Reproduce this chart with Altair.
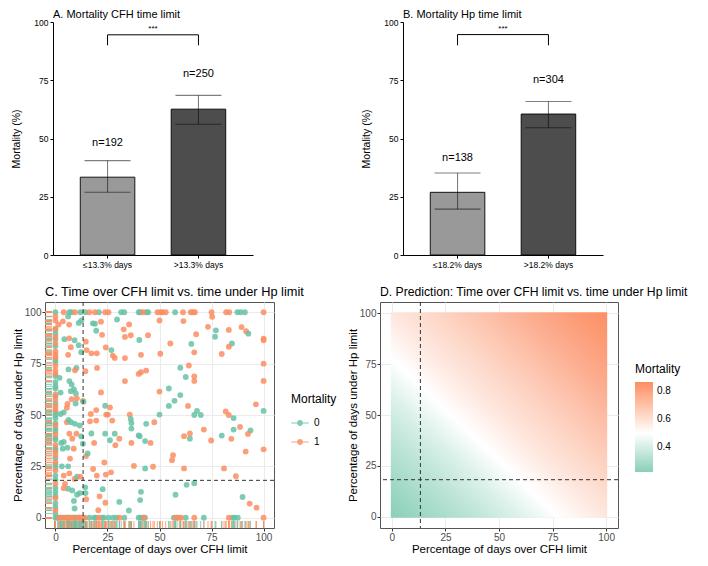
import altair as alt
import pandas as pd

FONT = "Liberation Sans"

# ---------------- Panel A / B data ----------------
a_groups = ["≤13.3% days", ">13.3% days"]
a_mort = [33.4, 62.6]
a_lo = [26.9, 56.1]
a_hi = [40.5, 68.5]
a_nlab = ["n=192", "n=250"]
a_nlab_y = [47.9, 77.5]
a_bracket = [90.0, 94.5]
a_star_y = 96.9

b_groups = ["≤18.2% days", ">18.2% days"]
b_mort = [26.9, 60.5]
b_lo = [19.7, 54.6]
b_hi = [35.2, 65.9]
b_nlab = ["n=138", "n=304"]
b_nlab_y = [41.5, 75.0]
b_bracket = [90.0, 94.6]
b_star_y = 97.0

# ---------------- Panel C data ----------------
row100_surv = [0, 6.7, 7.8, 12, 14.4, 20.9, 31.6, 33.1, 40, 40.8, 43.6, 44.6, 57.5, 87.4, 89, 91]
row100_died = [4, 9.4, 16.3, 19, 23.9, 25.5, 42, 49, 50.5, 51.5, 53, 61.3, 65, 66, 67, 75, 82, 83.5, 100]
row0_surv = [0, 1, 2.5, 4, 5.5, 6, 7, 8.9, 9.5, 10.1, 11.7, 12.8, 13.5, 16.3, 18.6, 19.6, 22.4, 23.2, 25.5,
             27.8, 29.4, 33.1, 40, 41.1, 42, 43, 56.9, 58.4, 62.6, 71.3, 85, 86, 87.6]
row0_died = [1.7, 3.2, 5, 6.3, 7.5, 8.5, 10.9, 11.5, 12.4, 14, 20.9, 30.8, 42.6, 57.7, 59.5, 60.3, 66.7, 83.3, 100]
col0_surv = [89.6, 83.6, 75.6, 66, 62.9, 50, 46, 42, 38, 34, 29, 24.5, 20.5, 12.5, 7, 91.5, 87, 77, 69, 64,
             59, 55.5, 51.5, 48.5, 43.5, 39, 33, 26, 18.5, 14.5, 10.5, 5, 2]
col0_died = [79.6, 71.7, 57.3, 54, 16.5, 3.7, 98, 96, 92, 88, 85, 81, 78, 74, 70, 60, 52.5, 45, 40.5, 35.5,
             32, 30.5, 27, 23, 9.5]

inner_x = [1.5, 3.6, 6.1, 6.6, 11.2, 12.5, 18, 19, 21.9, 19.6, 22.4, 29.6, 32.8, 35.4, 33.4, 36.2, 44.5, 40.3, 50, 61.5,
           75.3, 73.3, 77.1, 76.7, 83.3, 89.4, 91.6, 92.7, 100, 100, 67.6,
           4.3, 6.6, 9.2, 7.4, 11.2, 14.6, 15, 17.3, 19.9, 24.2, 26.9, 27.6, 28.5, 41.1, 50.4, 55.2, 65.3, 84.8, 83.3,
           79.9, 66.7, 33.4, 12.4, 6.1,
           20, 10.1, 9.4, 14.4, 2, 6.7, 33.4, 40, 41.1, 43.6, 60, 62.6, 64.1, 66.7, 66.7, 100, 100, 6.3, 7.8, 8.9,
           7.4, 9.8, 21.9, 2.5, 50, 54.5,
           57.2, 60, 13.2, 7.8, 9.7, 5.8, 10.3, 13.5, 5.5, 19.6, 17, 23.9, 25.2, 26.2, 24.4, 50, 54.5, 63.7, 66.7, 68,
           69.8, 81.8, 83.3, 85.6, 35.7, 36.2, 47.5, 43.6, 27.3, 100, 96.3, 2.5, 4, 5.5, 6.3, 7.5, 9.4, 11.7, 16.6,
           19.6, 36.5,
           12.4, 10.1, 6.7, 2.8, 4, 17.3, 18.6, 23.9, 26.2, 28.5, 28.8, 36.5, 40, 40.5, 43.1, 45.7, 36.5, 61.8, 64.6,
           64.6, 71.3, 74.8, 79.9, 84.5, 85.6, 88.7, 93.7, 92.5, 100, 91.4, 8.1, 13.2, 30.7, 3.5, 5.8, 8.8, 14.7,
           15.5, 56.5,
           56, 7, 3.1, 6.1, 23.5, 18.1, 19.9, 24.2, 26.7, 37.7, 43.1, 46.9, 61.8, 81, 86.7, 4, 4.6, 9.2, 10.4, 11.9,
           6.7, 14.3, 22.7, 63, 66.7,
           6.1, 8.1, 10.4, 11.7, 14.5, 14.8, 8.9, 9.2, 4, 21.2, 24, 20.6, 30.7, 35.3, 40.7, 41.1, 57.7, 89.9, 93.3,
           96.6]
inner_y = [94, 95.6, 98, 94, 94.8, 96, 94.6, 94.4, 95.4, 91, 89, 96.5, 91.7, 94.1, 88, 88.8, 88.8, 86.5, 96, 95.7,
           97.8, 92.9, 91.2, 88.1, 91.4, 92.8, 90.8, 89.6, 87.2, 86.4, 89.3,
           86.9, 87.3, 86.4, 83, 84, 85.7, 81.6, 80, 80, 82.9, 81.6, 78.9, 77.8, 79.3, 79.8, 84.8, 84.6, 84.8, 83.2,
           79.7, 80.5, 77.7, 80.6, 79.3,
           72.9, 72.9, 71.8, 71.3, 68.1, 66.5, 66.5, 70, 70.8, 71.6, 73, 68.5, 74.1, 68.8, 66.6, 75, 66.6, 72.2, 64.9,
           62.5, 61.6, 60.5, 61, 60.9, 61.4, 62.9,
           56.9, 59.7, 56.9, 57.7, 55.6, 55.4, 58.1, 56.5, 53.5, 52.4, 50.5, 54.5, 50.2, 53.7, 50.2, 50.2, 54.4, 54.4,
           50, 52, 50, 51.7, 50, 48.5, 50.2, 48.1, 46.5, 45.7, 47.3, 52, 55.2, 50.5, 51.3, 46.5, 47.6, 46.5, 45.7,
           44.9, 46.9, 47.3, 46.1,
           39.6, 40.9, 40.9, 36.4, 36.9, 41, 36.4, 40.9, 37.7, 40.9, 35.3, 43.4, 40.1, 39.7, 37.3, 36.4, 36.4, 39.7,
           38.5, 41, 42.9, 37.6, 40, 38.4, 42.9, 44.2, 42.5, 40.8, 33.3, 32.2, 38.5, 36, 38.5, 33.6, 34.1, 33.6, 30,
           31.3, 30.4,
           28, 28.8, 25, 25, 26.9, 23.7, 20.5, 21, 22.1, 25.2, 24, 24.8, 24, 24, 20.2, 20.5, 16.5, 18.9, 20, 20, 21.6,
           14.8, 13.9, 16, 16.8,
           14.1, 13.3, 11.2, 12, 12, 9, 8.2, 4.5, 14.4, 10.4, 7.3, 3.7, 7.7, 3.5, 8.6, 12.6, 11.2, 10.1, 6.9, 4.9]
inner_m = [1, 1, 0, 1, 0, 0, 0, 0, 1, 0, 1, 0, 1, 1, 1, 1, 1, 0, 1, 1, 1, 1, 0, 0, 1, 1, 1, 0, 1, 1, 1,
           0, 1, 0, 1, 0, 1, 1, 1, 1, 1, 0, 1, 1, 1, 1, 1, 0, 0, 1, 1, 1, 1, 0, 1,
           1, 0, 1, 1, 0, 0, 1, 1, 1, 1, 0, 0, 1, 1, 1, 1, 1, 0, 0, 0, 0, 0, 1, 0, 1, 0,
           0, 0, 1, 1, 0, 1, 1, 0, 1, 1, 1, 0, 1, 1, 1, 0, 0, 1, 0, 0, 0, 1, 1, 0, 1, 0, 1, 0, 1, 0, 1, 0, 0, 1, 0,
           0, 0, 0, 1, 1, 0,
           0, 1, 1, 0, 0, 0, 1, 0, 0, 0, 1, 0, 0, 0, 0, 1, 1, 1, 0, 1, 1, 1, 0, 1, 0, 1, 0, 1, 1, 1, 1, 0, 1, 0, 0,
           1, 1, 0, 1,
           1, 1, 0, 0, 1, 1, 1, 1, 1, 1, 0, 1, 1, 1, 1, 1, 1, 1, 0, 1, 1, 0, 0, 0, 0,
           0, 0, 0, 0, 0, 1, 0, 0, 1, 1, 1, 1, 0, 0, 0, 0, 0, 0, 1, 1]

cfh_limit = [13.3]
hp_limit = [18.2]

# ---------------- Panel D data ----------------
surface_x = [-0.5, 100.5]
surface_y = [-0.5, 100.5]
stop_offset = [0.0, 0.1, 0.2, 0.3, 0.39, 0.5, 0.6, 0.7, 0.8, 0.9, 1.0]
stop_color = ["#8ACFB8", "#A3DAC7", "#BEE5D7", "#DDF2EA", "#FFFFFF", "#FEE7DE", "#FDD6C6", "#FDC3AD",
              "#FCAF92", "#FC9E7A", "#FC8E64"]
pred_range = [0.22, 0.865]
pred_mid = 0.5
legend_ticks = [0.4, 0.6, 0.8]


# ---------------- build panels ----------------
def bar_panel(title, groups, mort, lo, hi, nlab, nlab_y, bracket, star_y, w, h):
    df = pd.DataFrame({"g": groups, "m": mort, "lo": lo, "hi": hi, "n": nlab, "ny": nlab_y,
                       "shade": ["light", "dark"]})
    br = pd.DataFrame({"g": [groups[0], groups[0], groups[1], groups[1]],
                       "y": [bracket[0], bracket[1], bracket[1], bracket[0]],
                       "o": [0, 1, 2, 3]})
    st = pd.DataFrame({"g": [groups[0]], "y": [star_y], "t": ["***"]})
    xs = alt.Scale(paddingInner=0.4, paddingOuter=0.3)
    ys = alt.Scale(domain=[0, 100], nice=False)
    xax = alt.Axis(title=None, labelAngle=0, labelFontSize=8.5, labelColor="black", tickColor="black",
                   domainColor="black", tickSize=3, labelPadding=2)
    yax = alt.Axis(title="Mortality (%)", values=[0, 25, 50, 75, 100], titleFontSize=10.5,
                   titleFontWeight="normal", titleColor="black", labelFontSize=8.5, labelColor="black",
                   tickColor="black", domainColor="black", tickSize=3, grid=False, titlePadding=12,
                   labelPadding=2)
    X = alt.X("g:N", sort=groups, scale=xs, axis=xax)
    Xn = alt.X("g:N", sort=groups)
    bars = alt.Chart(df).mark_bar(stroke="black", strokeWidth=0.9).encode(
        x=X, y=alt.Y("m:Q", scale=ys, axis=yax),
        color=alt.Color("shade:N", scale=alt.Scale(domain=["light", "dark"], range=["#999999", "#4D4D4D"]),
                        legend=None))
    err = alt.Chart(df).mark_rule(color="black", opacity=0.5, strokeWidth=1.1).encode(
        x=Xn, y="lo:Q", y2="hi:Q")
    cap_lo = alt.Chart(df).mark_tick(color="black", opacity=0.5, size=46, thickness=1.1,
                                     orient="horizontal").encode(x=Xn, y="lo:Q")
    cap_hi = alt.Chart(df).mark_tick(color="black", opacity=0.5, size=46, thickness=1.1,
                                     orient="horizontal").encode(x=Xn, y="hi:Q")
    ntext = alt.Chart(df).mark_text(fontSize=11, baseline="middle", color="black").encode(
        x=Xn, y="ny:Q", text="n:N")
    brk = alt.Chart(br).mark_line(color="black", strokeWidth=1).encode(x=Xn, y="y:Q", order="o:Q")
    star = alt.Chart(st).mark_text(fontSize=8, baseline="middle", dx=w * 0.2275,
                                   color="black").encode(x=Xn, y="y:Q", text="t:N")
    return alt.layer(bars, err, cap_lo, cap_hi, ntext, brk, star).properties(
        width=w, height=h,
        title=alt.TitleParams(title, anchor="start", frame="group", fontSize=11, fontWeight="normal",
                              offset=-2),
        view=alt.ViewBackground(stroke="transparent"))


def cd_axis(title):
    return alt.Axis(title=title, values=[0, 12.5, 25, 37.5, 50, 62.5, 75, 87.5, 100], format="d",
                    labelExpr="datum.value % 25 === 0 ? datum.label : ''", labelOverlap=False,
                    tickOpacity={"condition": {"test": "datum.value % 25 !== 0", "value": 0}, "value": 1},
                    gridWidth={"condition": {"test": "datum.value % 25 !== 0", "value": 0.5}, "value": 1},
                    gridColor="#EBEBEB", grid=True, domain=False, tickColor="#333333", tickSize=3,
                    labelFontSize=10, labelColor="#4D4D4D", titleFontSize=11.5, titleFontWeight="normal",
                    titleColor="black", labelPadding=1, titlePadding=1)


def spacer():
    return alt.Chart(pd.DataFrame({"s": [0]})).mark_point(opacity=0, size=1).properties(
        width=1, height=1, view=alt.ViewBackground(stroke="transparent"))


A = bar_panel("A. Mortality CFH time limit", a_groups, a_mort, a_lo, a_hi, a_nlab, a_nlab_y, a_bracket,
              a_star_y, 200, 233)
B = bar_panel("B. Mortality Hp time limit", b_groups, b_mort, b_lo, b_hi, b_nlab, b_nlab_y, b_bracket,
              b_star_y, 200, 233)

# Panel C table
cx = row100_surv + row100_died + row0_surv + row0_died + [0] * len(col0_surv) + [0] * len(col0_died) + inner_x
cy = ([100] * len(row100_surv) + [100] * len(row100_died) + [0] * len(row0_surv) + [0] * len(row0_died)
      + col0_surv + col0_died + inner_y)
cm = ([0] * len(row100_surv) + [1] * len(row100_died) + [0] * len(row0_surv) + [1] * len(row0_died)
      + [0] * len(col0_surv) + [1] * len(col0_died) + inner_m)
dfc = pd.DataFrame({"x": cx, "y": cy, "Mortality": [str(v) for v in cm]})

CW, CH = 229, 226
xs_c = alt.Scale(domain=[-5, 105], nice=False, zero=False)
ys_c = alt.Scale(domain=[-5, 105], nice=False, zero=False)
cscale = alt.Scale(domain=["0", "1"], range=["#66C2A5", "#FC8D62"])
key_path = "M-1,-0.07H1V0.07H-1Z M0.34,0A0.34,0.34 0 1,1 -0.34,0A0.34,0.34 0 1,1 0.34,0Z"
c_legend = alt.Legend(title="Mortality", orient="none", legendX=CW + 17, legendY=92, titleFontSize=12,
                      titleFontWeight="normal", titleColor="black", labelFontSize=10, labelColor="black",
                      symbolType=key_path, symbolSize=300, symbolStrokeWidth=0, rowPadding=5,
                      titlePadding=8, labelOffset=5)

rug_x = alt.Chart(dfc).mark_rule(strokeWidth=1, opacity=0.8).encode(
    x=alt.X("x:Q", scale=xs_c), y=alt.value(CH - 7), y2=alt.value(CH),
    color=alt.Color("Mortality:N", scale=cscale, legend=None))
rug_y = alt.Chart(dfc).mark_rule(strokeWidth=1, opacity=0.8).encode(
    y=alt.Y("y:Q", scale=ys_c), x=alt.value(0), x2=alt.value(7),
    color=alt.Color("Mortality:N", scale=cscale, legend=None))
pts = alt.Chart(dfc).mark_circle(size=34, opacity=0.85).encode(
    x=alt.X("x:Q", scale=xs_c, axis=cd_axis("Percentage of days over CFH limit")),
    y=alt.Y("y:Q", scale=ys_c, axis=cd_axis("Percentage of days under Hp limit")),
    color=alt.Color("Mortality:N", scale=cscale, legend=c_legend))
vline_c = alt.Chart(pd.DataFrame({"v": cfh_limit})).mark_rule(
    color="#333333", strokeDash=[4, 3], strokeWidth=1).encode(x=alt.X("v:Q", scale=xs_c))
hline_c = alt.Chart(pd.DataFrame({"h": hp_limit})).mark_rule(
    color="#333333", strokeDash=[4, 3], strokeWidth=1).encode(y=alt.Y("h:Q", scale=ys_c))
C = alt.layer(pts, rug_x, rug_y, vline_c, hline_c).properties(
    width=CW, height=CH,
    title=alt.TitleParams("C. Time over CFH limit vs. time under Hp limit", anchor="start", frame="group",
                          fontSize=12.8, fontWeight="normal", offset=3),
    view=alt.ViewBackground(stroke="#555555", strokeWidth=1))

# Panel D
DW, DH = 238, 226
xs_d = alt.Scale(domain=[-5.55, 105.55], nice=False, zero=False)
ys_d = alt.Scale(domain=[-5.55, 105.55], nice=False, zero=False)
dfs = pd.DataFrame({"x0": [surface_x[0]], "x1": [surface_x[1]], "y0": [surface_y[0]], "y1": [surface_y[1]]})
grad = alt.LinearGradient(gradient="linear",
                          stops=[alt.GradientStop(offset=o, color=c) for o, c in zip(stop_offset, stop_color)],
                          x1=0, y1=1, x2=1, y2=0)
surface = alt.Chart(dfs).mark_rect(fill=grad, strokeWidth=0).encode(
    x=alt.X("x0:Q", scale=xs_d, axis=cd_axis("Percentage of days over CFH limit")), x2="x1:Q",
    y=alt.Y("y0:Q", scale=ys_d, axis=cd_axis("Percentage of days under Hp limit")), y2="y1:Q")
leg = alt.Chart(pd.DataFrame({"p": pred_range})).mark_point(size=0, opacity=1).encode(
    color=alt.Color("p:Q",
                    scale=alt.Scale(domain=[pred_range[0], pred_mid, pred_range[1]],
                                    range=[stop_color[0], "#FFFFFF", "#FC8D62"], interpolate="lab"),
                    legend=alt.Legend(type="gradient", title="Mortality", values=legend_ticks, orient="none",
                                      legendX=DW + 17, legendY=62, gradientLength=90, gradientThickness=18,
                                      titleFontSize=12, titleFontWeight="normal", titleColor="black",
                                      labelFontSize=10, labelColor="black", titlePadding=6, labelOffset=4,
                                      gradientStrokeWidth=0)))
vline_d = alt.Chart(pd.DataFrame({"v": cfh_limit})).mark_rule(
    color="#333333", strokeDash=[4, 3], strokeWidth=1).encode(x=alt.X("v:Q", scale=xs_d))
hline_d = alt.Chart(pd.DataFrame({"h": hp_limit})).mark_rule(
    color="#333333", strokeDash=[4, 3], strokeWidth=1).encode(y=alt.Y("h:Q", scale=ys_d))
D = alt.layer(surface, vline_d, hline_d, leg).properties(
    width=DW, height=DH,
    title=alt.TitleParams("D. Prediction: Time over CFH limit vs. time under Hp limit", anchor="start",
                          frame="group", fontSize=12.2, fontWeight="normal", offset=3),
    view=alt.ViewBackground(stroke="#555555", strokeWidth=1))

top = alt.hconcat(spacer(), alt.hconcat(A, B, spacing=107), spacing=0)
bottom = alt.hconcat(spacer(), alt.hconcat(C, D, spacing=8), spacing=0)
chart = alt.vconcat(top, bottom, spacing=16).properties(padding=0).configure(font=FONT)

chart.save("out.html", embed_options={"renderer": "svg", "actions": False})
